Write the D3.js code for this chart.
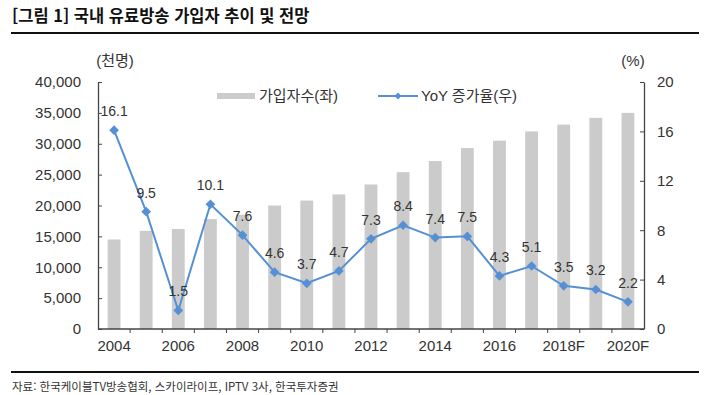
<!DOCTYPE html>
<html lang="ko">
<head>
<meta charset="UTF-8">
<title>국내 유료방송 가입자 추이 및 전망</title>
<script src="https://d3js.org/d3.v7.min.js"></script>
<style>
    body { margin: 0; background: #fff; }
    svg { display: block; font-family: "Liberation Sans", Arial, "Noto Sans CJK KR", sans-serif; }
</style>
</head>
<body>
<svg id="chart" width="706" height="395"></svg>
<script>
    // Data
    const years = ['2004', '2005', '2006', '2007', '2008', '2009', '2010', '2011', '2012',
                   '2013', '2014', '2015', '2016', '2017', '2018F', '2019F', '2020F'];
    const subscribers = [14500, 15900, 16200, 17800, 18500, 20000, 20800, 21800, 23400,
                         25400, 27200, 29300, 30500, 32000, 33100, 34200, 35000];
    const yoyGrowth = [16.1, 9.5, 1.5, 10.1, 7.6, 4.6, 3.7, 4.7, 7.3,
                       8.4, 7.4, 7.5, 4.3, 5.1, 3.5, 3.2, 2.2];
    const xLabels = ['2004', '2006', '2008', '2010', '2012', '2014', '2016', '2018F', '2020F'];
    const leftTicks = d3.range(0, 40001, 5000);
    const rightTicks = d3.range(0, 21, 4);

    const barColor = '#cbcbcb';
    const lineColor = '#5590d4';
    const textColor = '#333';

    const svg = d3.select('#chart');
    const margin = { top: 82, right: 62, bottom: 66, left: 98 };
    const width = 706 - margin.left - margin.right;
    const height = 395 - margin.top - margin.bottom;

    // title and rules
    svg.append('text')
        .attr('x', 12).attr('y', 22)
        .attr('font-family', '"Noto Sans CJK KR", sans-serif')
        .attr('font-weight', 'bold').attr('font-size', 16.5).attr('fill', '#111')
        .text('[그림 1] 국내 유료방송 가입자 추이 및 전망');
    svg.append('line').attr('x1', 11).attr('x2', 699).attr('y1', 33).attr('y2', 33)
        .attr('stroke', '#111').attr('stroke-width', 2);
    svg.append('line').attr('x1', 11).attr('x2', 699).attr('y1', 372).attr('y2', 372)
        .attr('stroke', '#111').attr('stroke-width', 2);
    svg.append('text')
        .attr('x', 12).attr('y', 391)
        .attr('font-family', '"Noto Sans CJK KR", sans-serif')
        .attr('font-size', 11.5).attr('fill', '#333')
        .text('자료: 한국케이블TV방송협회, 스카이라이프, IPTV 3사, 한국투자증권');

    const g = svg.append('g').attr('transform', `translate(${margin.left},${margin.top})`);

    const x = d3.scaleBand().domain(years).range([0, width]).paddingInner(0.6).paddingOuter(0.3);
    const yL = d3.scaleLinear().domain([0, 40000]).range([height, 0]);
    const yR = d3.scaleLinear().domain([0, 20]).range([height, 0]);
    const cx = d => x(d) + x.bandwidth() / 2;

    // bars
    g.selectAll('.bar')
        .data(years)
        .enter().append('rect')
        .attr('class', 'bar')
        .attr('x', d => x(d))
        .attr('y', (d, i) => yL(subscribers[i]))
        .attr('width', x.bandwidth())
        .attr('height', (d, i) => height - yL(subscribers[i]))
        .attr('fill', barColor);

    // axes
    const leftAxis = g.append('g')
        .call(d3.axisLeft(yL).tickValues(leftTicks).tickFormat(d3.format(','))
            .tickSizeInner(-4).tickSizeOuter(0).tickPadding(17));
    const rightAxis = g.append('g')
        .attr('transform', `translate(${width},0)`)
        .call(d3.axisRight(yR).tickValues(rightTicks)
            .tickSizeInner(-4).tickSizeOuter(0).tickPadding(13));
    [leftAxis, rightAxis].forEach(a => {
        a.select('.domain').attr('stroke', '#444').attr('stroke-width', 1.3);
        a.selectAll('.tick line').attr('stroke', '#444');
        a.selectAll('.tick text').attr('font-size', 15).attr('fill', textColor);
    });

    // x axis: ticks between categories, labels every other year
    g.append('line').attr('x1', 0).attr('x2', width).attr('y1', height).attr('y2', height)
        .attr('stroke', '#444').attr('stroke-width', 1.3);
    g.selectAll('.xtick')
        .data(years.slice(0, -1))
        .enter().append('line')
        .attr('class', 'xtick')
        .attr('x1', d => cx(d) + x.step() / 2).attr('x2', d => cx(d) + x.step() / 2)
        .attr('y1', height).attr('y2', height + 4)
        .attr('stroke', '#444');
    g.selectAll('.xlabel')
        .data(xLabels)
        .enter().append('text')
        .attr('class', 'xlabel')
        .attr('x', d => cx(d))
        .attr('y', height + 22)
        .attr('text-anchor', 'middle')
        .attr('font-size', 15).attr('fill', textColor)
        .text(d => d);

    // unit labels
    g.append('text').attr('x', 17).attr('y', -16).attr('text-anchor', 'middle')
        .attr('font-size', 15).attr('fill', textColor).text('(천명)');
    g.append('text').attr('x', width - 11).attr('y', -16).attr('text-anchor', 'middle')
        .attr('font-size', 15).attr('fill', textColor).text('(%)');

    // line
    const line = d3.line()
        .x(d => cx(d))
        .y((d, i) => yR(yoyGrowth[i]));
    g.append('path')
        .datum(years)
        .attr('fill', 'none')
        .attr('stroke', lineColor)
        .attr('stroke-width', 2)
        .attr('d', line);

    const diamond = d3.symbol().type(d3.symbolDiamond2).size(60);
    g.selectAll('.marker')
        .data(years)
        .enter().append('path')
        .attr('class', 'marker')
        .attr('transform', (d, i) => `translate(${cx(d)},${yR(yoyGrowth[i])})`)
        .attr('d', diamond)
        .attr('fill', lineColor);

    g.selectAll('.vlabel')
        .data(years)
        .enter().append('text')
        .attr('class', 'vlabel')
        .attr('x', d => cx(d))
        .attr('y', (d, i) => yR(yoyGrowth[i]) - 14)
        .attr('text-anchor', 'middle')
        .attr('font-size', 14).attr('fill', textColor)
        .text((d, i) => yoyGrowth[i].toFixed(1));

    // legend
    const legend = svg.append('g');
    legend.append('rect').attr('x', 217).attr('y', 93).attr('width', 38).attr('height', 6)
        .attr('fill', barColor);
    legend.append('text').attr('x', 259).attr('y', 101).attr('font-size', 15)
        .attr('fill', textColor).text('가입자수(좌)');
    legend.append('line').attr('x1', 378).attr('x2', 418).attr('y1', 96).attr('y2', 96)
        .attr('stroke', lineColor).attr('stroke-width', 2);
    legend.append('path').attr('transform', 'translate(398,96)')
        .attr('d', d3.symbol().type(d3.symbolDiamond2).size(30)).attr('fill', lineColor);
    legend.append('text').attr('x', 421).attr('y', 101).attr('font-size', 15)
        .attr('fill', textColor).text('YoY 증가율(우)');
</script>
</body>
</html>
